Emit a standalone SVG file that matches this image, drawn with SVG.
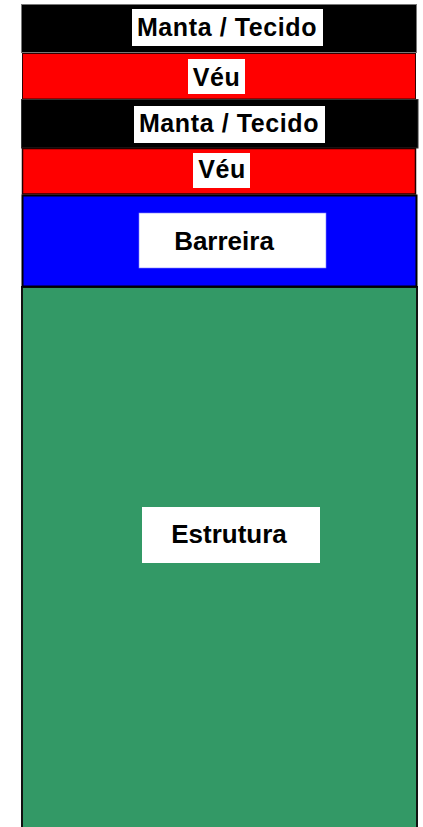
<svg xmlns="http://www.w3.org/2000/svg" width="423" height="827" viewBox="0 0 423 827">
<style>
.lbl{fill:#fff}
.t{font-family:"Liberation Sans",Arial,sans-serif;font-weight:bold;font-size:25px;fill:#000;text-anchor:middle;letter-spacing:0.6px}
.t2{font-family:"Liberation Sans",Arial,sans-serif;font-weight:bold;font-size:26px;fill:#000;text-anchor:middle}
</style>
<rect width="423" height="827" fill="#fff"/>
<g id="estrutura">
<rect x="22" y="287" width="395" height="560" fill="#339966" stroke="#111" stroke-width="2"/>
<rect class="lbl" x="142" y="507" width="178" height="56"/>
<text class="t2" x="229" y="543">Estrutura</text>
</g>
<g id="barreira">
<rect x="22.5" y="195.5" width="394" height="91" fill="#0000ff" stroke="#000" stroke-width="2"/>
<rect class="lbl" x="139" y="213" width="187" height="55" stroke="#8080ff" stroke-width="0.6"/>
<text class="t2" x="224" y="250">Barreira</text>
</g>
<g id="manta1">
<rect x="21.5" y="4.5" width="395" height="48" fill="#000" stroke="#777" stroke-width="1"/>
<rect class="lbl" x="132" y="9" width="191" height="37"/>
<text class="t" x="227" y="36">Manta / Tecido</text>
</g>
<g id="veu1">
<rect x="22.5" y="53.5" width="393" height="45.5" fill="#ff0000" stroke="#300" stroke-width="1"/>
<rect class="lbl" x="188" y="59" width="57" height="35"/>
<text class="t" x="216.5" y="86">Véu</text>
</g>
<g id="manta2">
<rect x="21.5" y="99.5" width="396.5" height="48.5" fill="#000" stroke="#333" stroke-width="1"/>
<rect class="lbl" x="134" y="106" width="191" height="37"/>
<text class="t" x="229" y="131.5">Manta / Tecido</text>
</g>
<g id="veu2">
<rect x="22.5" y="148.5" width="393" height="45.5" fill="#ff0000" stroke="#200" stroke-width="1.5"/>
<rect class="lbl" x="193" y="153" width="57" height="35"/>
<text class="t" x="222" y="178">Véu</text>
</g>
<g id="connectors"></g>
</svg>
